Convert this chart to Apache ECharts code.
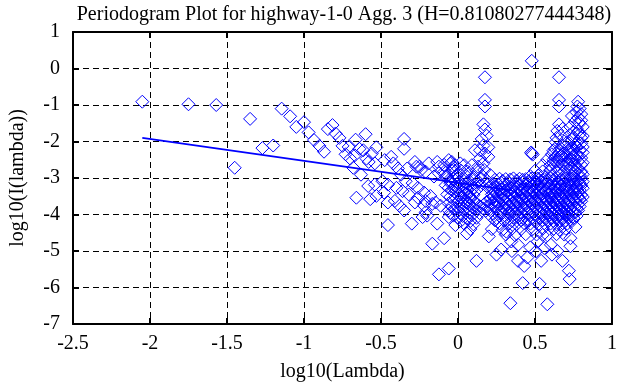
<!DOCTYPE html>
<html>
<head>
<meta charset="utf-8">
<script src="https://cdn.jsdelivr.net/npm/echarts@6/dist/echarts.min.js"></script>
<style>
html,body{margin:0;padding:0;background:#fff;}
#chart{width:643px;height:387px;}
</style>
</head>
<body>
<div id="chart"></div>
<script>
const titleText = 'Periodogram Plot for highway-1-0 Agg. 3 (H=0.81080277444348)';
const xName = 'log10(Lambda)';
const yName = 'log10(I(lambda))';
const xTicks = [-2.5, -2, -1.5, -1, -0.5, 0, 0.5, 1];
const yTicks = [-7, -6, -5, -4, -3, -2, -1, 0, 1];

// low-frequency sparse points
const sparsePoints = [
[-2.05,-0.91],[-1.75,-0.98],[-1.57,-1.0],[-1.45,-2.72],[-1.35,-1.38],[-1.27,-2.18],[-1.20,-2.11],
[-1.145,-1.10],[-1.09,-1.31],[-1.05,-1.60],[-1.0,-1.47],[-0.97,-1.75],[-0.935,-1.96],[-0.90,-2.12],
[-0.87,-2.28],[-0.845,-1.66],[-0.815,-1.55],[-0.795,-1.78],[-0.77,-1.90],[-0.75,-2.12],[-0.73,-2.35],
[-0.71,-2.15],[-0.70,-2.47],[-0.68,-2.72],[-0.665,-1.95],[-0.66,-3.54],[-0.67,-2.38],[-0.64,-2.20],
[-0.63,-2.91],[-0.615,-2.24],[-0.60,-1.80],[-0.594,-2.47],[-0.583,-3.22],[-0.58,-2.56],[-0.57,-3.58],
[-0.56,-2.33],[-0.54,-2.60],[-0.54,-3.18],[-0.53,-2.16],[-0.53,-3.49],[-0.49,-3.09],[-0.48,-3.40],
[-0.476,-2.51],[-0.455,-3.67],[-0.455,-4.29],[-0.455,-3.18],[-0.434,-2.42],[-0.42,-2.60],[-0.41,-3.63],
[-0.40,-3.27],[-0.39,-2.74],[-0.38,-3.76],[-0.37,-2.91],[-0.36,-3.36],[-0.35,-1.93],[-0.35,-2.20],
[-0.35,-3.89],[-0.34,-3.09],[-0.33,-2.74],[-0.32,-3.45],[-0.30,-4.25],[-0.295,-3.14],[-0.28,-2.56],
[-0.28,-3.67],[-0.27,-2.69],[-0.26,-3.27],[-0.26,-3.54],[-0.25,-2.69],[-0.24,-2.78],[-0.23,-4.07],
[-0.22,-3.40],[-0.22,-3.76],[-0.21,-2.83],[-0.21,-3.63],[-0.21,-3.94],[-0.20,-4.03],[-0.19,-2.60],
[-0.18,-3.49],[-0.167,-3.71],[-0.167,-4.80],[-0.156,-2.96],[-0.145,-3.67],[-0.135,-2.56],[-0.135,-4.25],
[-0.124,-2.69],[-0.124,-2.87],[-0.124,-5.64],[-0.113,-3.76],[-0.09,-2.64],[-0.09,-2.83],[-0.09,-4.65],
[-0.08,-2.96],[-0.06,-2.51],[-0.06,-3.89],[-0.06,-4.07],[-0.06,-5.48],[-0.05,-2.60],[-0.05,-3.09],
[-0.04,-2.56],[-0.03,-2.69],[-0.03,-2.78],[-0.017,-3.22],[-0.017,-4.29],[-0.006,-2.91],[0.015,-2.60]
];

// upper outliers and columns
const upperPoints = [
[0.479,0.21],[0.175,-0.24],[0.656,-0.24],[0.175,-0.86],[0.175,-1.04],[0.656,-0.86],[0.656,-1.04],
[0.78,-0.91],[0.775,-1.04],[0.79,-1.1],[0.77,-1.2],[0.80,-1.25],[0.78,-1.35],[0.76,-1.45],[0.79,-1.5],
[0.81,-1.6],[0.77,-1.65],[0.75,-1.75],[0.79,-1.8],[0.80,-1.9],[0.74,-1.95],[0.78,-2.0],[0.76,-2.1],
[0.81,-2.15],[0.73,-2.2],[0.79,-2.25],[0.77,-2.35],[0.75,-2.4],[0.80,-2.45],[0.72,-2.5],[0.78,-2.55],
[0.74,-1.3],[0.80,-1.42],[0.73,-1.6],[0.78,-1.72],[0.81,-1.85],[0.75,-1.88],[0.72,-2.05],[0.80,-2.05],
[0.77,-2.15],[0.74,-2.3],[0.81,-2.3],[0.78,-2.42],[0.75,-2.55],[0.81,-2.58],[0.73,-2.72],[0.78,-2.75],
[0.75,-2.88],[0.81,-2.9],
[0.656,-1.53],[0.645,-1.71],[0.667,-1.84],[0.635,-2.02],[0.678,-2.11],[0.656,-2.24],[0.688,-2.33],
[0.635,-2.42],[0.70,-2.5],[0.66,-2.55],[0.62,-2.6],[0.69,-2.0],[0.71,-2.2],
[0.64,-1.9],[0.68,-1.65],[0.62,-2.25],[0.67,-2.38],[0.64,-2.55],[0.70,-2.62],
[0.165,-1.53],[0.175,-1.67],[0.186,-1.84],[0.154,-1.93],[0.165,-2.11],[0.143,-2.24],[0.11,-2.24],
[0.175,-2.33],[0.143,-2.47],[0.197,-2.42],[0.165,-2.6],[0.13,-2.69],[0.197,-2.16],
[0.479,-2.33],[0.485,-2.36],[0.475,-2.30],
[0.58,-2.5],[0.62,-2.5],[0.66,-2.45],[0.74,-2.5],[0.61,-2.35],[0.65,-2.35],[0.69,-2.38],[0.73,-2.35],
[0.63,-2.2],[0.67,-2.2],[0.75,-2.2]
];

// dense high-frequency cluster
const densePoints = [
[-0.02,-2.65],[0.04,-2.65],[0.09,-2.65],[0.55,-2.65],[0.60,-2.65],[0.64,-2.68],[0.68,-2.65],[0.72,-2.62],[0.76,-2.68],[0.80,-2.64],
[-0.04,-2.8],[0.02,-2.8],[0.06,-2.82],[0.12,-2.8],[0.17,-2.78],[0.50,-2.8],[0.55,-2.82],[0.60,-2.78],[0.64,-2.8],[0.69,-2.82],[0.72,-2.78],[0.76,-2.8],[0.80,-2.82],
[-0.07,-2.95],[-0.01,-2.95],[0.05,-2.93],[0.10,-2.97],[0.16,-2.95],[0.21,-2.92],[0.47,-2.95],[0.52,-2.93],[0.57,-2.97],[0.61,-2.95],[0.66,-2.93],[0.70,-2.97],[0.74,-2.95],[0.79,-2.93],
[-0.03,-3.02],[0.04,-3.02],[0.10,-3.03],[0.15,-3.01],[0.27,-3.02],[0.31,-3.03],[0.36,-3.01],[0.40,-3.02],[0.44,-3.03],[0.48,-3.01],[0.52,-3.02],[0.56,-3.03],[0.60,-3.01],[0.63,-3.02],[0.67,-3.03],[0.70,-3.01],[0.74,-3.02],[0.77,-3.03],[0.80,-3.01],
[-0.05,-3.08],[0.01,-3.1],[0.07,-3.07],[0.13,-3.09],[0.19,-3.08],[0.24,-3.05],[0.29,-3.08],[0.34,-3.04],[0.38,-3.07],[0.42,-3.05],[0.46,-3.09],[0.50,-3.07],[0.54,-3.08],[0.58,-3.1],[0.62,-3.06],[0.65,-3.09],[0.68,-3.07],[0.72,-3.1],[0.75,-3.06],[0.78,-3.08],[0.81,-3.1],
[-0.05,-3.14],[0.0,-3.14],[0.06,-3.15],[0.12,-3.13],[0.18,-3.14],[0.23,-3.15],[0.28,-3.13],[0.33,-3.14],[0.38,-3.15],[0.42,-3.13],[0.46,-3.14],[0.50,-3.15],[0.54,-3.13],[0.58,-3.14],[0.61,-3.15],[0.65,-3.13],[0.69,-3.14],[0.72,-3.15],[0.76,-3.13],[0.79,-3.14],
[-0.08,-3.2],[-0.02,-3.22],[0.03,-3.19],[0.09,-3.21],[0.15,-3.2],[0.21,-3.22],[0.26,-3.18],[0.31,-3.2],[0.36,-3.22],[0.40,-3.19],[0.44,-3.21],[0.48,-3.2],[0.52,-3.18],[0.56,-3.22],[0.60,-3.2],[0.63,-3.19],[0.67,-3.21],[0.70,-3.2],[0.73,-3.18],[0.77,-3.22],[0.80,-3.2],
[-0.06,-3.27],[0.0,-3.28],[0.05,-3.26],[0.10,-3.27],[0.20,-3.28],[0.25,-3.26],[0.30,-3.27],[0.35,-3.28],[0.39,-3.26],[0.43,-3.27],[0.47,-3.28],[0.51,-3.26],[0.55,-3.27],[0.59,-3.28],[0.63,-3.26],[0.66,-3.27],[0.70,-3.28],[0.73,-3.26],[0.77,-3.27],[0.81,-3.28],
[-0.04,-3.33],[0.02,-3.35],[0.06,-3.32],[0.12,-3.33],[0.23,-3.34],[0.28,-3.31],[0.33,-3.33],[0.37,-3.35],[0.41,-3.32],[0.45,-3.33],[0.49,-3.34],[0.53,-3.31],[0.57,-3.33],[0.61,-3.35],[0.64,-3.32],[0.68,-3.33],[0.71,-3.34],[0.75,-3.31],[0.79,-3.33],
[-0.02,-3.39],[0.04,-3.4],[0.08,-3.38],[0.24,-3.39],[0.28,-3.4],[0.32,-3.38],[0.37,-3.39],[0.41,-3.4],[0.45,-3.38],[0.49,-3.39],[0.53,-3.4],[0.57,-3.38],[0.60,-3.39],[0.64,-3.4],[0.67,-3.38],[0.71,-3.39],[0.75,-3.4],[0.78,-3.38],
[-0.07,-3.45],[0.0,-3.47],[0.05,-3.44],[0.10,-3.46],[0.22,-3.45],[0.26,-3.47],[0.30,-3.44],[0.35,-3.45],[0.39,-3.47],[0.43,-3.44],[0.47,-3.46],[0.51,-3.45],[0.55,-3.43],[0.59,-3.47],[0.62,-3.45],[0.66,-3.44],[0.69,-3.46],[0.73,-3.45],[0.77,-3.43],[0.80,-3.46],
[-0.05,-3.52],[0.02,-3.53],[0.07,-3.51],[0.23,-3.52],[0.27,-3.53],[0.31,-3.51],[0.36,-3.52],[0.40,-3.53],[0.44,-3.51],[0.48,-3.52],[0.52,-3.53],[0.56,-3.51],[0.60,-3.52],[0.63,-3.53],[0.67,-3.51],[0.70,-3.52],[0.74,-3.53],[0.78,-3.51],[0.81,-3.52],
[-0.03,-3.58],[0.03,-3.6],[0.08,-3.57],[0.21,-3.58],[0.24,-3.6],[0.29,-3.57],[0.33,-3.58],[0.38,-3.6],[0.42,-3.57],[0.46,-3.58],[0.50,-3.6],[0.54,-3.57],[0.58,-3.58],[0.61,-3.6],[0.65,-3.57],[0.68,-3.58],[0.72,-3.6],[0.76,-3.57],[0.79,-3.58],
[0.0,-3.64],[0.05,-3.65],[0.10,-3.63],[0.19,-3.64],[0.25,-3.65],[0.30,-3.63],[0.34,-3.64],[0.38,-3.65],[0.42,-3.63],[0.46,-3.64],[0.50,-3.65],[0.54,-3.63],[0.58,-3.64],[0.62,-3.65],[0.65,-3.63],[0.69,-3.64],[0.72,-3.65],[0.76,-3.63],[0.80,-3.64],
[-0.06,-3.7],[0.01,-3.72],[0.06,-3.69],[0.12,-3.7],[0.17,-3.72],[0.22,-3.69],[0.27,-3.7],[0.32,-3.72],[0.36,-3.69],[0.40,-3.7],[0.44,-3.72],[0.48,-3.69],[0.52,-3.7],[0.56,-3.72],[0.60,-3.69],[0.63,-3.7],[0.67,-3.72],[0.70,-3.69],[0.74,-3.7],[0.78,-3.72],
[-0.04,-3.77],[0.02,-3.78],[0.08,-3.76],[0.14,-3.77],[0.19,-3.78],[0.24,-3.76],[0.29,-3.77],[0.33,-3.78],[0.37,-3.76],[0.41,-3.77],[0.45,-3.78],[0.49,-3.76],[0.53,-3.77],[0.57,-3.78],[0.61,-3.76],[0.64,-3.77],[0.68,-3.78],[0.71,-3.76],[0.75,-3.77],[0.79,-3.78],
[-0.02,-3.83],[0.04,-3.85],[0.10,-3.82],[0.16,-3.83],[0.21,-3.85],[0.25,-3.82],[0.30,-3.83],[0.35,-3.85],[0.39,-3.82],[0.43,-3.83],[0.47,-3.85],[0.51,-3.82],[0.55,-3.83],[0.59,-3.85],[0.62,-3.82],[0.66,-3.83],[0.69,-3.85],[0.73,-3.82],[0.77,-3.83],
[0.0,-3.9],[0.06,-3.91],[0.12,-3.89],[0.18,-3.9],[0.26,-3.91],[0.31,-3.89],[0.35,-3.9],[0.39,-3.91],[0.44,-3.89],[0.48,-3.9],[0.52,-3.91],[0.56,-3.89],[0.60,-3.9],[0.63,-3.91],[0.67,-3.89],[0.70,-3.9],[0.74,-3.91],[0.78,-3.89],
[-0.05,-3.96],[0.02,-3.98],[0.08,-3.95],[0.14,-3.96],[0.23,-3.98],[0.28,-3.95],[0.33,-3.96],[0.37,-3.98],[0.41,-3.95],[0.46,-3.96],[0.50,-3.98],[0.54,-3.95],[0.58,-3.96],[0.61,-3.98],[0.65,-3.95],[0.69,-3.96],[0.72,-3.98],[0.76,-3.95],
[-0.03,-4.03],[0.03,-4.04],[0.09,-4.02],[0.21,-4.03],[0.27,-4.04],[0.33,-4.02],[0.38,-4.03],[0.43,-4.04],[0.47,-4.02],[0.51,-4.03],[0.55,-4.04],[0.59,-4.02],[0.63,-4.03],[0.66,-4.04],[0.70,-4.02],[0.73,-4.03],[0.77,-4.04],
[0.0,-4.1],[0.06,-4.12],[0.12,-4.09],[0.25,-4.1],[0.31,-4.12],[0.36,-4.09],[0.40,-4.1],[0.45,-4.12],[0.49,-4.09],[0.53,-4.1],[0.57,-4.12],[0.61,-4.09],[0.64,-4.1],[0.68,-4.12],[0.72,-4.09],[0.75,-4.1],
[0.02,-4.17],[0.08,-4.18],[0.24,-4.16],[0.30,-4.17],[0.35,-4.18],[0.41,-4.16],[0.46,-4.17],[0.50,-4.18],[0.55,-4.16],[0.59,-4.17],[0.62,-4.18],[0.66,-4.16],[0.70,-4.17],[0.74,-4.18],
[0.04,-4.25],[0.10,-4.27],[0.27,-4.24],[0.33,-4.25],[0.38,-4.27],[0.43,-4.24],[0.47,-4.25],[0.52,-4.27],[0.56,-4.24],[0.60,-4.25],[0.64,-4.27],[0.68,-4.24],[0.71,-4.25],
[0.08,-4.4],[0.29,-4.42],[0.35,-4.39],[0.41,-4.4],[0.48,-4.42],[0.55,-4.39],[0.62,-4.4],[0.66,-4.42],[0.70,-4.39],
[0.31,-4.55],[0.37,-4.57],[0.44,-4.54],[0.51,-4.55],[0.58,-4.57],[0.64,-4.54],[0.69,-4.55]
];

// lower outliers
const lowerPoints = [
[0.058,-4.52],[0.12,-5.27],[0.25,-5.1],[0.28,-4.96],[0.314,-4.47],[0.346,-4.74],[0.39,-4.83],[0.39,-5.27],
[0.43,-5.41],[0.45,-5.18],[0.506,-5.01],[0.42,-5.88],[0.53,-5.9],[0.34,-6.43],[0.58,-6.46],[0.517,-4.74],
[0.55,-4.56],[0.54,-5.27],[0.56,-4.92],[0.603,-4.83],[0.645,-5.0],[0.678,-5.27],[0.72,-5.54],[0.725,-5.77],
[0.73,-4.87],[0.73,-4.65],[0.763,-4.34],[0.22,-4.4],[0.2,-4.6],[0.35,-5.0],[0.47,-4.9],[0.61,-5.1]
];

// least-squares fit line endpoints
const fitLine = [[-2.05,-1.90],[0.35,-3.34]];

const font = 'Liberation Serif';
const allPoints = sparsePoints.concat(upperPoints, densePoints, lowerPoints);

const chart = echarts.init(document.getElementById('chart'), null, {renderer:'canvas'});
const axisCommon = {
  axisLine:{show:true, onZero:false, lineStyle:{color:'#000', width:2}},
  axisTick:{show:true, inside:true, length:6, lineStyle:{color:'#000', width:2}},
};
const gridDash = {show:true, lineStyle:{color:'#000', width:1, type:[6,4]}};
chart.setOption({
  animation:false,
  backgroundColor:'#fff',
  title:{text:titleText, left:339, textAlign:'center', top:0,
    textStyle:{fontFamily:font, fontSize:20, fontWeight:'normal', color:'#000'}},
  grid:{left:66, right:31, top:32, bottom:56},
  xAxis:[{
    type:'value', min:-2.5, max:1, interval:0.5, position:'bottom',
    name:xName, nameLocation:'middle', nameGap:38,
    nameTextStyle:{fontFamily:font, fontSize:20, color:'#000'},
    ...axisCommon,
    axisLabel:{fontFamily:font, fontSize:20, color:'#000', margin:10,
      formatter:v=>{const t=xTicks.find(k=>Math.abs(k-v)<1e-9);return t===undefined?'':String(t);}},
    splitLine:gridDash
  },{
    type:'value', min:-2.5, max:1, interval:0.5, position:'top',
    ...axisCommon, axisLabel:{show:false}, splitLine:{show:false}
  }],
  yAxis:[{
    type:'value', min:-7, max:1, interval:1, position:'left',
    name:yName, nameLocation:'middle', nameGap:45, nameRotate:90,
    nameTextStyle:{fontFamily:font, fontSize:20, color:'#000'},
    ...axisCommon,
    axisLabel:{fontFamily:font, fontSize:20, color:'#000', margin:13,
      formatter:v=>{const t=yTicks.find(k=>Math.abs(k-v)<1e-9);return t===undefined?'':String(t);}},
    splitLine:gridDash
  },{
    type:'value', min:-7, max:1, interval:1, position:'right',
    ...axisCommon, axisLabel:{show:false}, splitLine:{show:false}
  }],
  series:[{
    type:'scatter', xAxisIndex:0, yAxisIndex:0, data:allPoints,
    symbol:'diamond', symbolSize:13, silent:true,
    itemStyle:{color:'rgba(0,0,0,0)', borderColor:'#0000ff', borderWidth:1, opacity:1}
  },{
    type:'line', xAxisIndex:0, yAxisIndex:0, data:fitLine, showSymbol:false, silent:true,
    lineStyle:{color:'#0000ff', width:1.6}
  }]
});
</script>
</body>
</html>
